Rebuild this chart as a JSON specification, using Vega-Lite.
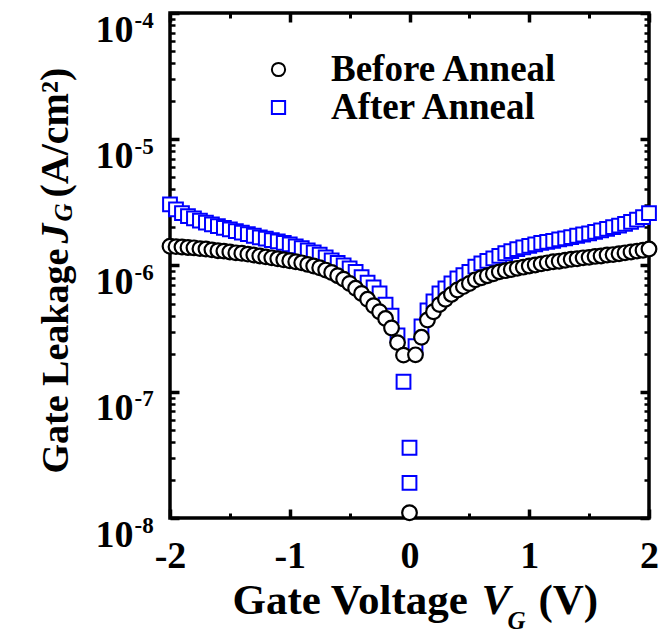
{
  "$schema": "https://vega.github.io/schema/vega-lite/v6.json",
  "width": 479,
  "height": 505,
  "autosize": "none",
  "padding": {"left": 170, "top": 13, "right": 10, "bottom": 116},
  "background": "white",
  "config": {
    "view": {"stroke": "black", "strokeWidth": 3.5},
    "font": "Liberation Serif",
    "axis": {"domain": false, "grid": false, "labelFont": "Liberation Serif", "labelFontWeight": "bold", "labelColor": "black", "tickColor": "black", "titleColor": "black", "titleFont": "Liberation Serif", "labelFlush": false, "labelOverlap": false, "tickCap": "butt", "titleLimit": 0}
  },
  "data": {"values": [
    {"V": -2.00, "J": 1.42e-6, "series": "Before Anneal"},
    {"V": -1.95, "J": 1.41e-6, "series": "Before Anneal"},
    {"V": -1.90, "J": 1.40e-6, "series": "Before Anneal"},
    {"V": -1.85, "J": 1.39e-6, "series": "Before Anneal"},
    {"V": -1.80, "J": 1.38e-6, "series": "Before Anneal"},
    {"V": -1.75, "J": 1.36e-6, "series": "Before Anneal"},
    {"V": -1.70, "J": 1.35e-6, "series": "Before Anneal"},
    {"V": -1.65, "J": 1.33e-6, "series": "Before Anneal"},
    {"V": -1.60, "J": 1.31e-6, "series": "Before Anneal"},
    {"V": -1.55, "J": 1.30e-6, "series": "Before Anneal"},
    {"V": -1.50, "J": 1.28e-6, "series": "Before Anneal"},
    {"V": -1.45, "J": 1.26e-6, "series": "Before Anneal"},
    {"V": -1.40, "J": 1.25e-6, "series": "Before Anneal"},
    {"V": -1.35, "J": 1.23e-6, "series": "Before Anneal"},
    {"V": -1.30, "J": 1.21e-6, "series": "Before Anneal"},
    {"V": -1.25, "J": 1.19e-6, "series": "Before Anneal"},
    {"V": -1.20, "J": 1.17e-6, "series": "Before Anneal"},
    {"V": -1.15, "J": 1.15e-6, "series": "Before Anneal"},
    {"V": -1.10, "J": 1.13e-6, "series": "Before Anneal"},
    {"V": -1.05, "J": 1.11e-6, "series": "Before Anneal"},
    {"V": -1.00, "J": 1.09e-6, "series": "Before Anneal"},
    {"V": -0.95, "J": 1.07e-6, "series": "Before Anneal"},
    {"V": -0.90, "J": 1.05e-6, "series": "Before Anneal"},
    {"V": -0.85, "J": 1.02e-6, "series": "Before Anneal"},
    {"V": -0.80, "J": 0.99e-6, "series": "Before Anneal"},
    {"V": -0.75, "J": 0.96e-6, "series": "Before Anneal"},
    {"V": -0.70, "J": 0.92e-6, "series": "Before Anneal"},
    {"V": -0.65, "J": 0.88e-6, "series": "Before Anneal"},
    {"V": -0.60, "J": 0.83e-6, "series": "Before Anneal"},
    {"V": -0.55, "J": 0.78e-6, "series": "Before Anneal"},
    {"V": -0.50, "J": 0.72e-6, "series": "Before Anneal"},
    {"V": -0.45, "J": 0.66e-6, "series": "Before Anneal"},
    {"V": -0.40, "J": 0.60e-6, "series": "Before Anneal"},
    {"V": -0.35, "J": 0.54e-6, "series": "Before Anneal"},
    {"V": -0.30, "J": 0.48e-6, "series": "Before Anneal"},
    {"V": -0.25, "J": 0.43e-6, "series": "Before Anneal"},
    {"V": -0.20, "J": 0.38e-6, "series": "Before Anneal"},
    {"V": -0.15, "J": 0.32e-6, "series": "Before Anneal"},
    {"V": -0.10, "J": 0.245e-6, "series": "Before Anneal"},
    {"V": -0.05, "J": 0.195e-6, "series": "Before Anneal"},
    {"V": 0.00, "J": 0.011e-6, "series": "Before Anneal"},
    {"V": 0.05, "J": 0.196e-6, "series": "Before Anneal"},
    {"V": 0.10, "J": 0.27e-6, "series": "Before Anneal"},
    {"V": 0.15, "J": 0.37e-6, "series": "Before Anneal"},
    {"V": 0.20, "J": 0.43e-6, "series": "Before Anneal"},
    {"V": 0.25, "J": 0.49e-6, "series": "Before Anneal"},
    {"V": 0.30, "J": 0.54e-6, "series": "Before Anneal"},
    {"V": 0.35, "J": 0.59e-6, "series": "Before Anneal"},
    {"V": 0.40, "J": 0.64e-6, "series": "Before Anneal"},
    {"V": 0.45, "J": 0.68e-6, "series": "Before Anneal"},
    {"V": 0.50, "J": 0.72e-6, "series": "Before Anneal"},
    {"V": 0.55, "J": 0.77e-6, "series": "Before Anneal"},
    {"V": 0.60, "J": 0.80e-6, "series": "Before Anneal"},
    {"V": 0.65, "J": 0.83e-6, "series": "Before Anneal"},
    {"V": 0.70, "J": 0.86e-6, "series": "Before Anneal"},
    {"V": 0.75, "J": 0.89e-6, "series": "Before Anneal"},
    {"V": 0.80, "J": 0.91e-6, "series": "Before Anneal"},
    {"V": 0.85, "J": 0.93e-6, "series": "Before Anneal"},
    {"V": 0.90, "J": 0.95e-6, "series": "Before Anneal"},
    {"V": 0.95, "J": 0.97e-6, "series": "Before Anneal"},
    {"V": 1.00, "J": 0.99e-6, "series": "Before Anneal"},
    {"V": 1.05, "J": 1.01e-6, "series": "Before Anneal"},
    {"V": 1.10, "J": 1.03e-6, "series": "Before Anneal"},
    {"V": 1.15, "J": 1.05e-6, "series": "Before Anneal"},
    {"V": 1.20, "J": 1.07e-6, "series": "Before Anneal"},
    {"V": 1.25, "J": 1.08e-6, "series": "Before Anneal"},
    {"V": 1.30, "J": 1.10e-6, "series": "Before Anneal"},
    {"V": 1.35, "J": 1.12e-6, "series": "Before Anneal"},
    {"V": 1.40, "J": 1.13e-6, "series": "Before Anneal"},
    {"V": 1.45, "J": 1.15e-6, "series": "Before Anneal"},
    {"V": 1.50, "J": 1.16e-6, "series": "Before Anneal"},
    {"V": 1.55, "J": 1.18e-6, "series": "Before Anneal"},
    {"V": 1.60, "J": 1.19e-6, "series": "Before Anneal"},
    {"V": 1.65, "J": 1.21e-6, "series": "Before Anneal"},
    {"V": 1.70, "J": 1.22e-6, "series": "Before Anneal"},
    {"V": 1.75, "J": 1.24e-6, "series": "Before Anneal"},
    {"V": 1.80, "J": 1.26e-6, "series": "Before Anneal"},
    {"V": 1.85, "J": 1.28e-6, "series": "Before Anneal"},
    {"V": 1.90, "J": 1.30e-6, "series": "Before Anneal"},
    {"V": 1.95, "J": 1.32e-6, "series": "Before Anneal"},
    {"V": 2.00, "J": 1.35e-6, "series": "Before Anneal"},
    {"V": -2.00, "J": 3.05e-6, "series": "After Anneal"},
    {"V": -1.95, "J": 2.78e-6, "series": "After Anneal"},
    {"V": -1.90, "J": 2.60e-6, "series": "After Anneal"},
    {"V": -1.85, "J": 2.46e-6, "series": "After Anneal"},
    {"V": -1.80, "J": 2.36e-6, "series": "After Anneal"},
    {"V": -1.75, "J": 2.27e-6, "series": "After Anneal"},
    {"V": -1.70, "J": 2.19e-6, "series": "After Anneal"},
    {"V": -1.65, "J": 2.12e-6, "series": "After Anneal"},
    {"V": -1.60, "J": 2.05e-6, "series": "After Anneal"},
    {"V": -1.55, "J": 1.99e-6, "series": "After Anneal"},
    {"V": -1.50, "J": 1.93e-6, "series": "After Anneal"},
    {"V": -1.45, "J": 1.87e-6, "series": "After Anneal"},
    {"V": -1.40, "J": 1.82e-6, "series": "After Anneal"},
    {"V": -1.35, "J": 1.77e-6, "series": "After Anneal"},
    {"V": -1.30, "J": 1.72e-6, "series": "After Anneal"},
    {"V": -1.25, "J": 1.67e-6, "series": "After Anneal"},
    {"V": -1.20, "J": 1.63e-6, "series": "After Anneal"},
    {"V": -1.15, "J": 1.59e-6, "series": "After Anneal"},
    {"V": -1.10, "J": 1.55e-6, "series": "After Anneal"},
    {"V": -1.05, "J": 1.51e-6, "series": "After Anneal"},
    {"V": -1.00, "J": 1.47e-6, "series": "After Anneal"},
    {"V": -0.95, "J": 1.42e-6, "series": "After Anneal"},
    {"V": -0.90, "J": 1.37e-6, "series": "After Anneal"},
    {"V": -0.85, "J": 1.32e-6, "series": "After Anneal"},
    {"V": -0.80, "J": 1.27e-6, "series": "After Anneal"},
    {"V": -0.75, "J": 1.22e-6, "series": "After Anneal"},
    {"V": -0.70, "J": 1.16e-6, "series": "After Anneal"},
    {"V": -0.65, "J": 1.10e-6, "series": "After Anneal"},
    {"V": -0.60, "J": 1.05e-6, "series": "After Anneal"},
    {"V": -0.55, "J": 1.00e-6, "series": "After Anneal"},
    {"V": -0.50, "J": 0.95e-6, "series": "After Anneal"},
    {"V": -0.45, "J": 0.89e-6, "series": "After Anneal"},
    {"V": -0.40, "J": 0.81e-6, "series": "After Anneal"},
    {"V": -0.35, "J": 0.73e-6, "series": "After Anneal"},
    {"V": -0.30, "J": 0.67e-6, "series": "After Anneal"},
    {"V": -0.25, "J": 0.60e-6, "series": "After Anneal"},
    {"V": -0.20, "J": 0.49e-6, "series": "After Anneal"},
    {"V": -0.15, "J": 0.40e-6, "series": "After Anneal"},
    {"V": -0.10, "J": 0.28e-6, "series": "After Anneal"},
    {"V": -0.05, "J": 0.12e-6, "series": "After Anneal"},
    {"V": 0.00, "J": 0.036e-6, "series": "After Anneal"},
    {"V": 0.00, "J": 0.019e-6, "series": "After Anneal"},
    {"V": 0.05, "J": 0.23e-6, "series": "After Anneal"},
    {"V": 0.10, "J": 0.33e-6, "series": "After Anneal"},
    {"V": 0.15, "J": 0.44e-6, "series": "After Anneal"},
    {"V": 0.20, "J": 0.52e-6, "series": "After Anneal"},
    {"V": 0.25, "J": 0.60e-6, "series": "After Anneal"},
    {"V": 0.30, "J": 0.66e-6, "series": "After Anneal"},
    {"V": 0.35, "J": 0.72e-6, "series": "After Anneal"},
    {"V": 0.40, "J": 0.79e-6, "series": "After Anneal"},
    {"V": 0.45, "J": 0.84e-6, "series": "After Anneal"},
    {"V": 0.50, "J": 0.89e-6, "series": "After Anneal"},
    {"V": 0.55, "J": 0.98e-6, "series": "After Anneal"},
    {"V": 0.60, "J": 1.04e-6, "series": "After Anneal"},
    {"V": 0.65, "J": 1.09e-6, "series": "After Anneal"},
    {"V": 0.70, "J": 1.14e-6, "series": "After Anneal"},
    {"V": 0.75, "J": 1.19e-6, "series": "After Anneal"},
    {"V": 0.80, "J": 1.25e-6, "series": "After Anneal"},
    {"V": 0.85, "J": 1.30e-6, "series": "After Anneal"},
    {"V": 0.90, "J": 1.35e-6, "series": "After Anneal"},
    {"V": 0.95, "J": 1.39e-6, "series": "After Anneal"},
    {"V": 1.00, "J": 1.43e-6, "series": "After Anneal"},
    {"V": 1.05, "J": 1.47e-6, "series": "After Anneal"},
    {"V": 1.10, "J": 1.51e-6, "series": "After Anneal"},
    {"V": 1.15, "J": 1.54e-6, "series": "After Anneal"},
    {"V": 1.20, "J": 1.57e-6, "series": "After Anneal"},
    {"V": 1.25, "J": 1.61e-6, "series": "After Anneal"},
    {"V": 1.30, "J": 1.64e-6, "series": "After Anneal"},
    {"V": 1.35, "J": 1.68e-6, "series": "After Anneal"},
    {"V": 1.40, "J": 1.72e-6, "series": "After Anneal"},
    {"V": 1.45, "J": 1.76e-6, "series": "After Anneal"},
    {"V": 1.50, "J": 1.80e-6, "series": "After Anneal"},
    {"V": 1.55, "J": 1.85e-6, "series": "After Anneal"},
    {"V": 1.60, "J": 1.90e-6, "series": "After Anneal"},
    {"V": 1.65, "J": 1.95e-6, "series": "After Anneal"},
    {"V": 1.70, "J": 2.01e-6, "series": "After Anneal"},
    {"V": 1.75, "J": 2.07e-6, "series": "After Anneal"},
    {"V": 1.80, "J": 2.14e-6, "series": "After Anneal"},
    {"V": 1.85, "J": 2.22e-6, "series": "After Anneal"},
    {"V": 1.90, "J": 2.31e-6, "series": "After Anneal"},
    {"V": 1.95, "J": 2.42e-6, "series": "After Anneal"},
    {"V": 2.00, "J": 2.60e-6, "series": "After Anneal"}
  ]},
  "resolve": {"axis": {"x": "independent", "y": "independent"}},
  "layer": [
    {
      "transform": [{"filter": "datum.series === 'After Anneal'"}],
      "mark": {"type": "point", "filled": false, "fill": "white", "strokeWidth": 2, "size": 190, "opacity": 1},
      "encoding": {
        "x": {"field": "V", "type": "quantitative", "scale": {"domain": [-2, 2], "nice": false, "zero": false},
          "axis": {"orient": "bottom", "values": [-2, -1, 0, 1, 2], "tickSize": -9, "tickWidth": 3.5, "labelFontSize": 38, "labelPadding": 28, "labelExpr": "'' + datum.value",
            "title": "Gate Voltage", "titleFontSize": 43, "titleFontWeight": "bold", "titleX": 62, "titleY": 95, "titleAlign": "left", "titleBaseline": "alphabetic", "titleAngle": 0}},
        "y": {"field": "J", "type": "quantitative", "scale": {"type": "log", "domain": [1e-8, 1e-4], "nice": false},
          "axis": {"orient": "left", "values": [1e-8, 1e-7, 1e-6, 1e-5, 1e-4], "tickSize": -9, "tickWidth": 3.5, "labelExpr": "'10'", "labelFontSize": 38, "labelPadding": 46, "labelOffset": 17, "labelAlign": "right", "labelBaseline": "middle",
            "title": "Gate Leakage", "titleFontSize": 38, "titleFontWeight": "bold", "titleAngle": 270, "titleX": -103, "titleY": 460, "titleAlign": "left", "titleBaseline": "alphabetic"}},
        "color": {"field": "series", "type": "nominal", "scale": {"domain": ["Before Anneal", "After Anneal"], "range": ["black", "#0000ff"]},
          "legend": {"orient": "none", "legendX": 90, "legendY": 38, "title": null, "labelFont": "Liberation Serif", "labelFontSize": 37, "labelFontWeight": "bold", "labelColor": "black", "labelLimit": 0, "symbolSize": 175, "symbolStrokeWidth": 2, "labelOffset": 34, "rowPadding": 0, "padding": 0}},
        "shape": {"field": "series", "type": "nominal", "scale": {"domain": ["Before Anneal", "After Anneal"], "range": ["circle", "square"]},
          "legend": {"orient": "none", "legendX": 90, "legendY": 38, "title": null, "labelFont": "Liberation Serif", "labelFontSize": 37, "labelFontWeight": "bold", "labelColor": "black", "labelLimit": 0, "symbolSize": 175, "symbolStrokeWidth": 2, "labelOffset": 34, "rowPadding": 0, "padding": 0}}
      }
    },
    {
      "transform": [{"filter": "datum.series === 'Before Anneal'"}],
      "mark": {"type": "point", "shape": "circle", "filled": false, "fill": "white", "color": "black", "strokeWidth": 2.2, "size": 215, "opacity": 1},
      "encoding": {
        "x": {"field": "V", "type": "quantitative",
          "axis": {"orient": "bottom", "values": [-1.5, -0.5, 0.5, 1.5], "tickSize": -5, "tickWidth": 3, "labels": false,
            "title": "V", "titleFontSize": 43, "titleFontWeight": "bold", "titleFontStyle": "italic", "titleX": 311, "titleY": 95, "titleAlign": "left", "titleBaseline": "alphabetic", "titleAngle": 0}},
        "y": {"field": "J", "type": "quantitative",
          "axis": {"orient": "left", "values": [2e-8, 3e-8, 4e-8, 5e-8, 6e-8, 7e-8, 8e-8, 9e-8, 2e-7, 3e-7, 4e-7, 5e-7, 6e-7, 7e-7, 8e-7, 9e-7, 2e-6, 3e-6, 4e-6, 5e-6, 6e-6, 7e-6, 8e-6, 9e-6, 2e-5, 3e-5, 4e-5, 5e-5, 6e-5, 7e-5, 8e-5, 9e-5], "tickSize": -5, "tickWidth": 2.5, "labels": false,
            "title": "J", "titleFontSize": 40, "titleFontWeight": "bold", "titleFontStyle": "italic", "titleAngle": 270, "titleX": -103, "titleY": 230, "titleAlign": "left", "titleBaseline": "alphabetic"}}
      }
    },
    {
      "mark": {"type": "point", "opacity": 0},
      "encoding": {
        "x": {"field": "V", "type": "quantitative",
          "axis": {"orient": "top", "values": [-2, -1, 0, 1, 2], "tickSize": -9, "tickWidth": 3.5, "labels": false,
            "title": "G", "titleFontSize": 25, "titleFontWeight": "bold", "titleFontStyle": "italic", "titleX": 337, "titleY": 615, "titleAlign": "left", "titleBaseline": "alphabetic", "titleAngle": 0}},
        "y": {"field": "J", "type": "quantitative",
          "axis": {"orient": "right", "values": [1e-8, 1e-7, 1e-6, 1e-5, 1e-4], "tickSize": -9, "tickWidth": 3.5, "labels": false,
            "title": "G", "titleFontSize": 25, "titleFontWeight": "bold", "titleFontStyle": "italic", "titleAngle": 270, "titleX": -578, "titleY": 208, "titleAlign": "left", "titleBaseline": "alphabetic"}}
      }
    },
    {
      "mark": {"type": "point", "opacity": 0},
      "encoding": {
        "x": {"field": "V", "type": "quantitative",
          "axis": {"orient": "top", "values": [-1.5, -0.5, 0.5, 1.5], "tickSize": -5, "tickWidth": 3, "labels": false,
            "title": "(V)", "titleFontSize": 43, "titleFontWeight": "bold", "titleX": 368, "titleY": 600, "titleAlign": "left", "titleBaseline": "alphabetic", "titleAngle": 0}},
        "y": {"field": "J", "type": "quantitative",
          "axis": {"orient": "right", "values": [2e-8, 3e-8, 4e-8, 5e-8, 6e-8, 7e-8, 8e-8, 9e-8, 2e-7, 3e-7, 4e-7, 5e-7, 6e-7, 7e-7, 8e-7, 9e-7, 2e-6, 3e-6, 4e-6, 5e-6, 6e-6, 7e-6, 8e-6, 9e-6, 2e-5, 3e-5, 4e-5, 5e-5, 6e-5, 7e-5, 8e-5, 9e-5], "tickSize": -5, "tickWidth": 2.5, "labels": false,
            "title": "(A/cm²)", "titleFontSize": 40, "titleFontWeight": "bold", "titleAngle": 270, "titleX": -582, "titleY": 184, "titleAlign": "left", "titleBaseline": "alphabetic"}}
      }
    },
    {
      "mark": {"type": "point", "opacity": 0},
      "encoding": {
        "x": {"field": "V", "type": "quantitative", "axis": null},
        "y": {"field": "J", "type": "quantitative",
          "axis": {"orient": "left", "values": [1e-8, 1e-7, 1e-6, 1e-5, 1e-4], "ticks": false, "labelExpr": "'' + round(log(datum.value) / LN10)", "labelFontSize": 23, "labelPadding": 36, "labelOffset": 7, "labelAlign": "left", "labelBaseline": "middle", "title": null}}
      }
    }
  ]
}
